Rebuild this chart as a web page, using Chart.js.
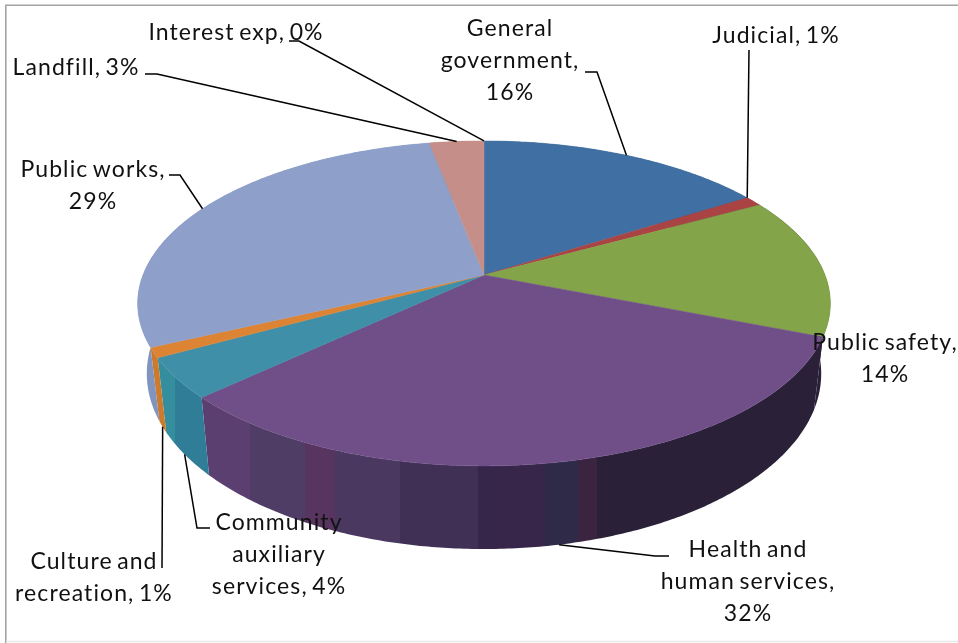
<!DOCTYPE html>
<html>
<head>
<meta charset="utf-8">
<title>Expenditure by function</title>
<script src="https://cdn.jsdelivr.net/npm/chart.js@4"></script>
<style>
  html, body { margin: 0; padding: 0; background: #fff; }
  #wrap { position: relative; width: 958px; height: 643px; overflow: hidden; }
  canvas { display: block; }
</style>
</head>
<body>
<div id="wrap"><canvas id="pie" width="958" height="643"></canvas></div>
<script>
const categories = ['General government', 'Judicial', 'Public safety', 'Health and human services',
  'Community auxiliary services', 'Culture and recreation', 'Public works', 'Landfill', 'Interest exp'];
const values = [16, 1, 14, 32, 4, 1, 29, 3, 0];
const labelLines = [
  ['General', 'government,', '16%'],
  ['Judicial, 1%'],
  ['Public safety,', '14%'],
  ['Health and', 'human services,', '32%'],
  ['Community', 'auxiliary', 'services, 4%'],
  ['Culture and', 'recreation, 1%'],
  ['Public works,', '29%'],
  ['Landfill, 3%'],
  ['Interest exp, 0%']
];
const topColors = ['#4070a3', '#a94344', '#83a449', '#704f88', '#3f8fa9', '#dc8434', '#8ea0c9', '#c68e88', '#a9c16f'];

// shading of the side wall, as [x, colour] bands running left to right
const wallBands = [
  [[0, '#2c4f78']],
  [[0, '#7c3130']],
  [[0, '#2a2038'], [822, '#4f6128']],
  [[0, '#5a3f70'], [250, '#4f3d66'], [305, '#583560'], [335, '#4a3860'], [400, '#403055'],
   [478, '#35264a'], [495, '#38264a'], [545, '#2e2a48'], [578, '#3a2440'], [597, '#2a2038']],
  [[0, '#348e9e'], [175, '#2f7d97']],
  [[0, '#cd7a2c']],
  [[0, '#8094bd']],
  [[0, '#946a65']],
  [[0, '#7c8f52']]
];

// perspective of the disc: angle around the circle -> page position
const CX = 484, TILT = 0.175;
const TOP_PLANE = { rx: 341, ry: 157.5, vy: 275 };
const BOTTOM_PLANE = { rx: 332, ry: 170, vy: 343 };

function project(theta, plane) {
  const x = Math.sin(theta), y = -Math.cos(theta);
  const w = 1 - TILT * y;
  return [CX + plane.rx * x / w, plane.vy + plane.ry * y / w];
}

function tracePlane(ctx, a, b, plane, first) {
  const steps = Math.max(2, Math.ceil(Math.abs(b - a) / 0.01));
  for (let i = 0; i <= steps; i++) {
    const p = project(a + (b - a) * i / steps, plane);
    if (i === 0 && first) ctx.moveTo(p[0], p[1]);
    else ctx.lineTo(p[0], p[1]);
  }
}

function wallFill(ctx, bands) {
  if (bands.length === 1) return bands[0][1];
  const g = ctx.createLinearGradient(0, 0, 958, 0);
  bands.forEach((b, i) => {
    const from = b[0] / 958;
    const to = i + 1 < bands.length ? bands[i + 1][0] / 958 : 1;
    g.addColorStop(from, b[1]);
    g.addColorStop(to, b[1]);
  });
  return g;
}

// text centres, first baseline, and leader elbows for each label
const LABEL_POS = [
  { x: 510, y: 36 }, { x: 776, y: 43 }, { x: 885, y: 350 }, { x: 748, y: 557 },
  { x: 279, y: 530 }, { x: 94, y: 569 }, { x: 93, y: 177 }, { x: 76, y: 75 }, { x: 236, y: 40 }
];
const LEADERS = [
  { path: [[585, 72], [597, 72]], plane: TOP_PLANE, at: 0.5 },
  { path: [[749, 50]], plane: TOP_PLANE, at: 0 },
  null,
  { path: [[669, 556], [655, 556]], plane: BOTTOM_PLANE, at: 0.5 },
  { path: [[210, 528], [197, 528]], plane: BOTTOM_PLANE, at: 0.5 },
  { path: [[162, 568]], plane: BOTTOM_PLANE, at: 0.5 },
  { path: [[169, 175], [180, 175]], plane: TOP_PLANE, at: 0.5 },
  { path: [[145, 74], [157, 74]], plane: TOP_PLANE, at: 0.5 },
  { path: [[289, 41], [299, 41]], plane: TOP_PLANE, at: 0.5 }
];

const perspectivePie = {
  id: 'perspectivePie',
  beforeDraw(chart) {
    const ctx = chart.ctx;
    ctx.save();
    ctx.lineWidth = 1.6;
    ctx.strokeStyle = '#a3a3a3';
    ctx.beginPath();
    ctx.moveTo(5.8, 643);
    ctx.lineTo(5.8, 5.2);
    ctx.lineTo(958, 5.2);
    ctx.stroke();
    ctx.strokeStyle = '#e9e9e9';
    ctx.beginPath();
    ctx.moveTo(6, 641.5);
    ctx.lineTo(958, 641.5);
    ctx.stroke();
    ctx.restore();
  },
  beforeDatasetDraw(chart, args) {
    const ctx = chart.ctx;
    const arcs = chart.getDatasetMeta(args.index).data;
    ctx.save();
    // side walls first, the top surface covers whatever is behind it
    arcs.forEach((arc, i) => {
      if (arc.endAngle - arc.startAngle <= 0) return;
      const a = arc.startAngle + Math.PI / 2, b = arc.endAngle + Math.PI / 2;
      ctx.beginPath();
      tracePlane(ctx, a, b, TOP_PLANE, true);
      tracePlane(ctx, b, a, BOTTOM_PLANE, false);
      ctx.closePath();
      ctx.fillStyle = wallFill(ctx, wallBands[i]);
      ctx.fill();
    });
    arcs.forEach((arc, i) => {
      if (arc.endAngle - arc.startAngle <= 0) return;
      const a = arc.startAngle + Math.PI / 2, b = arc.endAngle + Math.PI / 2;
      ctx.beginPath();
      ctx.moveTo(CX, TOP_PLANE.vy);
      tracePlane(ctx, a, b, TOP_PLANE, false);
      ctx.closePath();
      ctx.fillStyle = topColors[i];
      ctx.strokeStyle = topColors[i];
      ctx.lineWidth = 0.5;
      ctx.fill();
      ctx.stroke();
    });
    ctx.restore();
    return false;
  },
  afterDatasetsDraw(chart) {
    const ctx = chart.ctx;
    const arcs = chart.getDatasetMeta(0).data;
    ctx.save();
    ctx.strokeStyle = '#000';
    ctx.lineWidth = 1.5;
    arcs.forEach((arc, i) => {
      const leader = LEADERS[i];
      if (!leader) return;
      const angle = arc.startAngle + (arc.endAngle - arc.startAngle) * leader.at + Math.PI / 2;
      const end = project(angle, leader.plane);
      ctx.beginPath();
      leader.path.forEach((p, k) => k === 0 ? ctx.moveTo(p[0], p[1]) : ctx.lineTo(p[0], p[1]));
      ctx.lineTo(end[0], end[1]);
      ctx.stroke();
    });
    ctx.fillStyle = '#111';
    ctx.font = '23px Lato, "Open Sans", sans-serif';
    ctx.letterSpacing = '1.1px';
    ctx.wordSpacing = '-2.5px';
    ctx.textAlign = 'center';
    ctx.textBaseline = 'alphabetic';
    labelLines.forEach((lines, i) => {
      lines.forEach((line, k) => {
        ctx.fillText(line, LABEL_POS[i].x, LABEL_POS[i].y + k * 32);
      });
    });
    ctx.restore();
  }
};

new Chart(document.getElementById('pie'), {
  type: 'pie',
  data: {
    labels: categories,
    datasets: [{ data: values, backgroundColor: topColors, borderWidth: 0 }]
  },
  options: {
    responsive: false,
    animation: false,
    events: [],
    rotation: 0,
    plugins: { legend: { display: false }, tooltip: { enabled: false } }
  },
  plugins: [perspectivePie]
});
</script>
</body>
</html>
